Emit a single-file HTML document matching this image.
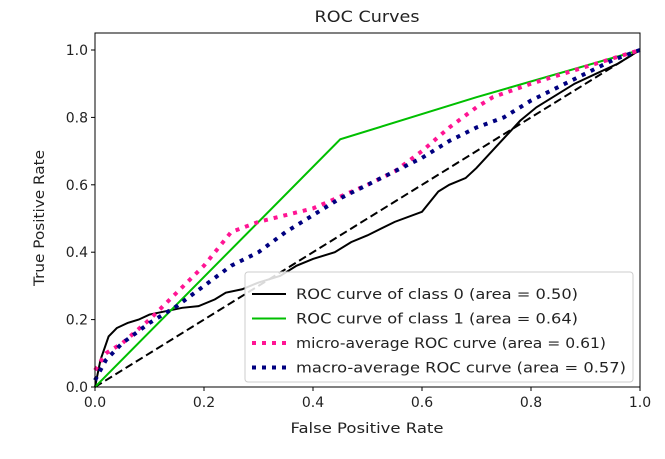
<!DOCTYPE html>
<html><head><meta charset="utf-8"><style>
body{margin:0;background:#fff;}
text{font-family:"DejaVu Sans","Liberation Sans",sans-serif;fill:#222;}
</style></head><body>
<svg width="665" height="454" id="chart"></svg>
<script>
const fprClass0=[0,0.01,0.025,0.04,0.06,0.08,0.1,0.13,0.16,0.19,0.22,0.24,0.27,0.3,0.34,0.37,0.4,0.44,0.47,0.5,0.55,0.6,0.63,0.65,0.68,0.7,0.74,0.78,0.81,0.85,0.88,0.92,0.96,1];
const tprClass0=[0,0.08,0.15,0.175,0.19,0.2,0.215,0.225,0.235,0.24,0.26,0.28,0.29,0.31,0.33,0.36,0.38,0.4,0.43,0.45,0.49,0.52,0.58,0.6,0.62,0.65,0.72,0.79,0.83,0.87,0.9,0.93,0.96,1];
const fprClass1=[0,0.45,0.7,1];
const tprClass1=[0,0.735,0.86,1];
const fprMicro=[0,0.02,0.05,0.1,0.15,0.2,0.25,0.3,0.4,0.5,0.55,0.6,0.65,0.7,0.73,0.8,0.9,1];
const tprMicro=[0.05,0.1,0.13,0.2,0.28,0.36,0.46,0.49,0.53,0.6,0.64,0.7,0.77,0.83,0.86,0.9,0.95,1];
const fprMacro=[0,0.02,0.05,0.1,0.15,0.2,0.25,0.3,0.35,0.4,0.45,0.5,0.55,0.6,0.65,0.7,0.75,0.8,0.85,0.9,0.95,1];
const tprMacro=[0.02,0.08,0.13,0.19,0.24,0.3,0.36,0.4,0.46,0.51,0.56,0.6,0.64,0.68,0.73,0.77,0.8,0.85,0.89,0.93,0.97,1];
const xTicks=[0,0.2,0.4,0.6,0.8,1.0];
const yTicks=[0,0.2,0.4,0.6,0.8,1.0];
const legendLabels=["ROC curve of class 0 (area = 0.50)","ROC curve of class 1 (area = 0.64)","micro-average ROC curve (area = 0.61)","macro-average ROC curve (area = 0.57)"];
const legendWidths=[282,282,310,330];

const NS="http://www.w3.org/2000/svg";
const svg=document.getElementById('chart');
const X0=95,X1=640,Y0=387,Y1=50;
const xs=v=>X0+v*(X1-X0);
const ys=v=>Y0-v*(Y0-Y1);
function mk(tag,attrs,parent){const e=document.createElementNS(NS,tag);for(const k in attrs)e.setAttribute(k,attrs[k]);(parent||svg).appendChild(e);return e;}

const title=mk('text',{x:367,y:22,'text-anchor':'middle','font-size':16,textLength:105,lengthAdjust:'spacingAndGlyphs'});
title.textContent='ROC Curves';



xTicks.forEach(t=>{
  const g=mk('g',{});
  
  
  mk('line',{x1:xs(t),x2:xs(t),y1:Y0,y2:Y0+4,stroke:'#000'},g);
  const tx=mk('text',{x:xs(t),y:Y0+20,'text-anchor':'middle','font-size':14},g);tx.textContent=t.toFixed(1);
});
yTicks.forEach(t=>{
  const g=mk('g',{});
  
  
  mk('line',{x1:X0-4,x2:X0,y1:ys(t),y2:ys(t),stroke:'#000'},g);
  const tx=mk('text',{x:X0-7,y:ys(t)+5,'text-anchor':'end','font-size':14},g);tx.textContent=t.toFixed(1);
});
const xl=mk('text',{x:367,y:433,'text-anchor':'middle','font-size':14,textLength:153,lengthAdjust:'spacingAndGlyphs'});xl.textContent='False Positive Rate';


const yl=mk('text',{x:44,y:218,'text-anchor':'middle','font-size':14,textLength:136,lengthAdjust:'spacingAndGlyphs',transform:'rotate(-90 44 218)'});yl.textContent='True Positive Rate';



function pts(a,b){return a.map((v,i)=>xs(v)+','+ys(b[i])).join(' ');}
const diag=mk('polyline',{points:pts([0,1],[0,1]),fill:'none',stroke:'#000',"stroke-width":2,"stroke-dasharray":"8,4"});


const c0=mk('polyline',{points:pts(fprClass0,tprClass0),fill:'none',stroke:'#000','stroke-width':2});


const c1=mk('polyline',{points:pts(fprClass1,tprClass1),fill:'none',stroke:'#00bf00','stroke-width':2});


const mi=mk('polyline',{points:pts(fprMicro,tprMicro),fill:'none',stroke:'#ff1493','stroke-width':4,'stroke-dasharray':'4,6'});


const ma=mk('polyline',{points:pts(fprMacro,tprMacro),fill:'none',stroke:'#000080','stroke-width':4,'stroke-dasharray':'4,6'});



const frame=mk('rect',{x:X0,y:33,width:X1-X0,height:Y0-33,fill:'none',stroke:'#000','stroke-width':1});



const lg=mk('g',{});


mk('rect',{x:245,y:272,width:388,height:110,rx:3,fill:'rgba(255,255,255,0.85)',stroke:'#ccc'},lg);
const styles=[{s:'#000',w:2,d:''},{s:'#00bf00',w:2,d:''},{s:'#ff1493',w:4,d:'4,6'},{s:'#000080',w:4,d:'4,6'}];
legendLabels.forEach((lab,i)=>{
  const y=294+i*24.5;
  const g=mk('g',{},lg);
  
  
  const l=mk('line',{x1:252,x2:286,y1:y,y2:y,stroke:styles[i].s,'stroke-width':styles[i].w},g);
  if(styles[i].d)l.setAttribute('stroke-dasharray',styles[i].d);
  const t=mk('text',{x:296,y:y+5,'font-size':14.5,textLength:legendWidths[i],lengthAdjust:'spacingAndGlyphs'},g);t.textContent=lab;
});
</script>
</body></html>
